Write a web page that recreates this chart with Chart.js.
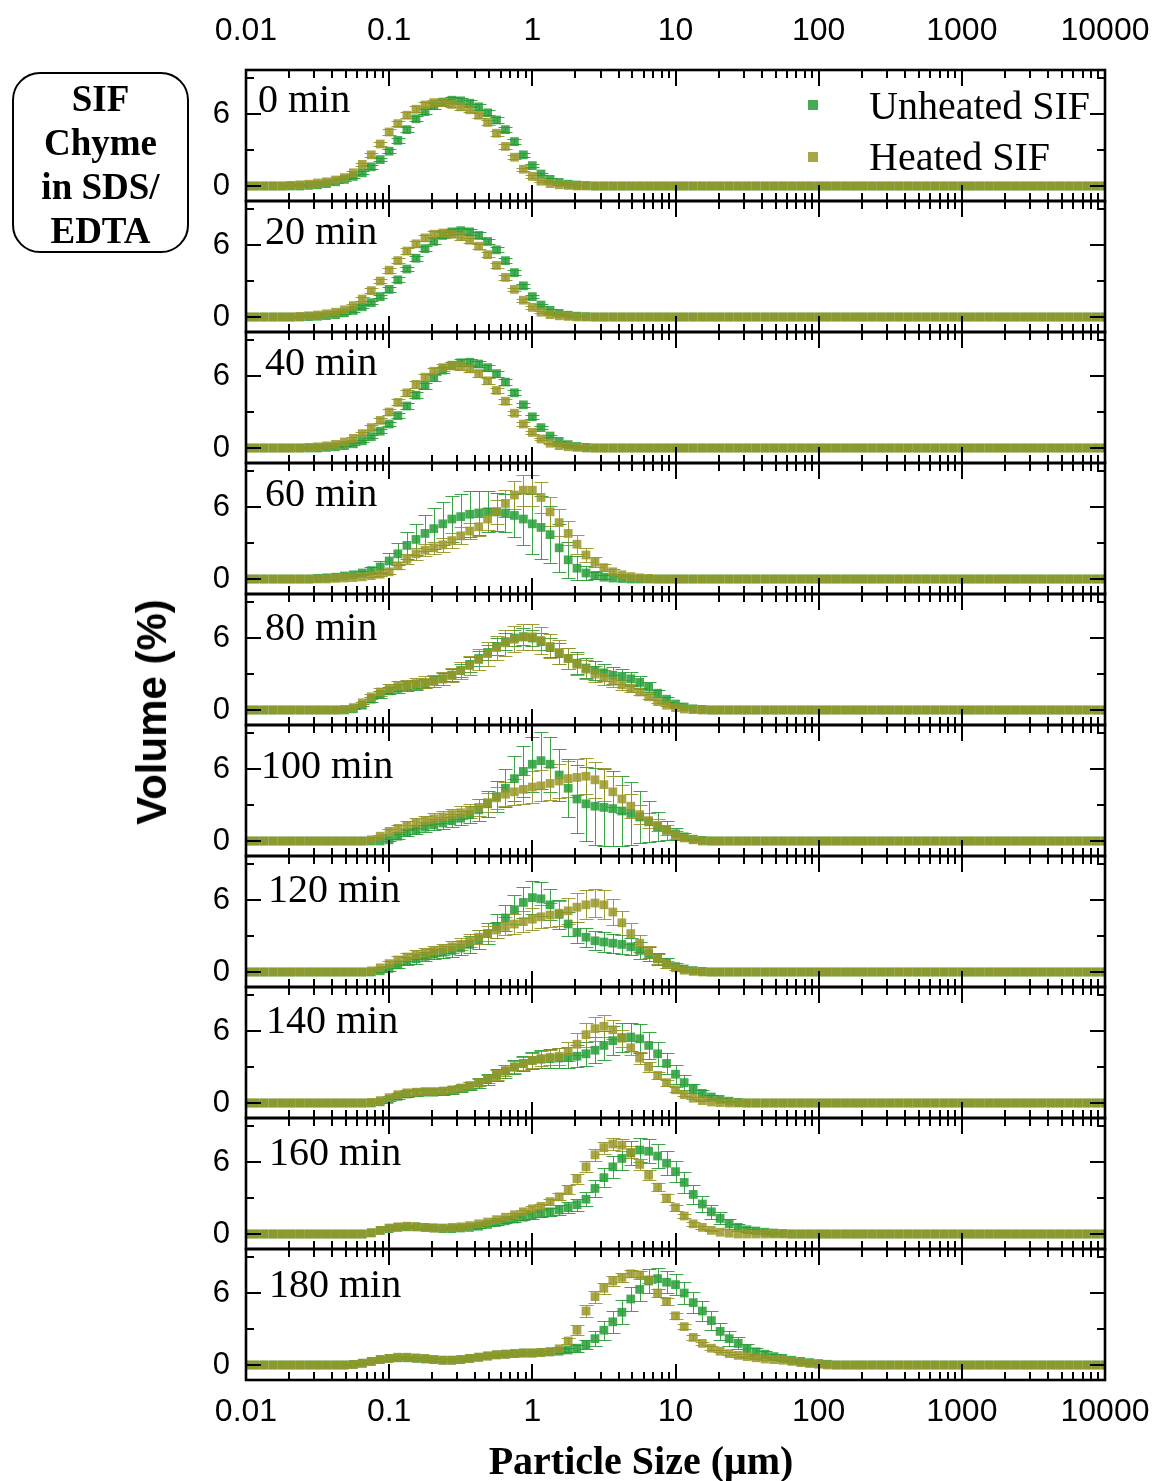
<!DOCTYPE html>
<html>
<head>
<meta charset="utf-8">
<title>SIF chyme particle size distributions</title>
<script src="https://cdn.jsdelivr.net/npm/chart.js@4.4.1/dist/chart.umd.min.js"></script>
<style>
  html, body { margin: 0; padding: 0; background: #fff; }
  #page { position: relative; width: 1155px; height: 1481px; overflow: hidden; background: #fff; }
  canvas { position: absolute; left: 0; }
  .txt { position: absolute; white-space: nowrap; color: #000; line-height: 1; z-index: 5; }
  .serif { font-family: "Liberation Serif", "Times New Roman", serif; }
  .sans { font-family: "Liberation Sans", Arial, sans-serif; }
  .tag { font-size: 40px; }
  .legend-text { font-size: 40px; }
  .swatch { position: absolute; width: 10px; height: 10px; z-index: 5; }
  #box { position: absolute; left: 12px; top: 72px; width: 177px; height: 181px; box-sizing: border-box;
         border: 2px solid #000; border-radius: 28px; display: flex; flex-direction: column;
         justify-content: center; align-items: center; z-index: 5; padding-top: 4px;
         font-family: "Liberation Serif", "Times New Roman", serif; font-weight: bold; font-size: 37px; line-height: 44px; }
  #ytitle { left: 152px; top: 712px; transform: translate(-50%, -50%) rotate(-90deg); font-weight: bold; font-size: 42px; }
  #xtitle { left: 641px; top: 1441px; transform: translateX(-50%); font-weight: bold; font-size: 40px; }
</style>
</head>
<body>
<div id="page">
  <div id="box"><div>SIF</div><div>Chyme</div><div>in SDS/</div><div>EDTA</div></div>
  <div id="ytitle" class="txt sans">Volume (%)</div>
  <div id="xtitle" class="txt serif">Particle Size (μm)</div>
</div>
<script>
// Size classes (µm), one decade per row
const sizes = [
  0.01,0.0115,0.0133,0.0154,0.0178,0.0205,0.0237,0.0274,0.0316,0.0365,0.0422,0.0487,0.0562,0.0649,0.075,0.0866,
  0.1,0.115,0.133,0.154,0.178,0.205,0.237,0.274,0.316,0.365,0.422,0.487,0.562,0.649,0.75,0.866,
  1,1.15,1.33,1.54,1.78,2.05,2.37,2.74,3.16,3.65,4.22,4.87,5.62,6.49,7.5,8.66,
  10,11.5,13.3,15.4,17.8,20.5,23.7,27.4,31.6,36.5,42.2,48.7,56.2,64.9,75,86.6,
  100,115,133,154,178,205,237,274,316,365,422,487,562,649,750,866,
  1000,1150,1330,1540,1780,2050,2370,2740,3160,3650,4220,4870,5620,6490,7500,8660,
  10000
];

const xTickValues = [0.01, 0.1, 1, 10, 100, 1000, 10000];
const xTickLabels = ['0.01', '0.1', '1', '10', '100', '1000', '10000'];
const yTickValues = [0, 6];
const yTickLabels = ['0', '6'];
const timeLabels = ['0 min', '20 min', '40 min', '60 min', '80 min', '100 min', '120 min', '140 min', '160 min', '180 min'];
const seriesNames = ['Unheated SIF', 'Heated SIF'];

// Volume (%) per size class, unheated SIF
const unheated0 = [
  0,0,0,0,0,0,0,0.05,0.1,0.2,0.35,0.55,0.8,1.1,1.6,2.2,
  2.9,3.8,4.7,5.6,6.2,6.7,7.0,7.15,7.1,6.9,6.6,6.1,5.5,4.7,3.7,2.6,
  1.7,1.0,0.55,0.3,0.15,0.08,0.04,0,0,0,0,0,0,0,0,0,
  0,0,0,0,0,0,0,0,0,0,0,0,0,0,0,0,
  0,0,0,0,0,0,0,0,0,0,0,0,0,0,0,0,
  0,0,0,0,0,0,0,0,0,0,0,0,0,0,0,0,
  0];
const unheated20 = [
  0,0,0,0,0,0,0,0.03,0.06,0.12,0.2,0.35,0.55,0.85,1.2,1.7,
  2.3,3.1,4.0,4.9,5.7,6.3,6.8,7.1,7.2,7.1,6.8,6.3,5.6,4.7,3.7,2.6,
  1.7,1.0,0.55,0.3,0.15,0.07,0.03,0,0,0,0,0,0,0,0,0,
  0,0,0,0,0,0,0,0,0,0,0,0,0,0,0,0,
  0,0,0,0,0,0,0,0,0,0,0,0,0,0,0,0,
  0,0,0,0,0,0,0,0,0,0,0,0,0,0,0,0,
  0];
const unheated40 = [
  0,0,0,0,0,0,0,0,0,0.05,0.1,0.2,0.35,0.6,0.95,1.4,
  2.0,2.7,3.5,4.4,5.2,5.9,6.5,6.9,7.1,7.15,7.0,6.7,6.2,5.5,4.6,3.6,
  2.6,1.7,1.0,0.55,0.28,0.13,0.05,0,0,0,0,0,0,0,0,0,
  0,0,0,0,0,0,0,0,0,0,0,0,0,0,0,0,
  0,0,0,0,0,0,0,0,0,0,0,0,0,0,0,0,
  0,0,0,0,0,0,0,0,0,0,0,0,0,0,0,0,
  0];
const unheated60 = [
  0,0,0,0,0,0,0,0,0.05,0.1,0.15,0.25,0.35,0.5,0.7,1.0,
  1.5,2.1,2.8,3.3,3.8,4.2,4.6,5.0,5.2,5.4,5.5,5.6,5.6,5.5,5.3,5.0,
  4.6,4.3,3.7,2.6,1.6,0.9,0.5,0.3,0.15,0.08,0.04,0,0,0,0,0,
  0,0,0,0,0,0,0,0,0,0,0,0,0,0,0,0,
  0,0,0,0,0,0,0,0,0,0,0,0,0,0,0,0,
  0,0,0,0,0,0,0,0,0,0,0,0,0,0,0,0,
  0];
const unheated80 = [
  0,0,0,0,0,0,0,0,0,0,0,0,0.1,0.4,0.9,1.3,
  1.6,1.8,2.0,2.1,2.2,2.4,2.6,2.9,3.3,3.8,4.3,4.8,5.3,5.7,6.0,6.1,
  6.0,5.7,5.2,4.7,4.3,3.9,3.5,3.3,3.1,2.9,2.8,2.6,2.3,1.9,1.4,0.9,
  0.5,0.25,0.1,0.05,0,0,0,0,0,0,0,0,0,0,0,0,
  0,0,0,0,0,0,0,0,0,0,0,0,0,0,0,0,
  0,0,0,0,0,0,0,0,0,0,0,0,0,0,0,0,
  0];
const unheated100 = [
  0,0,0,0,0,0,0,0,0,0,0,0,0,0,0,0,
  0.1,0.4,0.7,0.95,1.15,1.35,1.5,1.7,1.9,2.2,2.6,3.1,3.7,4.4,5.2,5.8,
  6.4,6.7,6.4,5.5,4.4,3.5,3.1,2.9,2.8,2.7,2.5,2.3,2.0,1.6,1.2,0.9,
  0.6,0.35,0.15,0.05,0,0,0,0,0,0,0,0,0,0,0,0,
  0,0,0,0,0,0,0,0,0,0,0,0,0,0,0,0,
  0,0,0,0,0,0,0,0,0,0,0,0,0,0,0,0,
  0];
const unheated120 = [
  0,0,0,0,0,0,0,0,0,0,0,0,0,0,0,0.1,
  0.3,0.6,0.9,1.1,1.3,1.5,1.65,1.8,2.0,2.3,2.7,3.2,3.8,4.5,5.2,5.8,
  6.2,6.1,5.6,4.8,4.0,3.3,2.9,2.6,2.5,2.4,2.3,2.1,1.8,1.5,1.1,0.75,
  0.45,0.25,0.12,0.05,0,0,0,0,0,0,0,0,0,0,0,0,
  0,0,0,0,0,0,0,0,0,0,0,0,0,0,0,0,
  0,0,0,0,0,0,0,0,0,0,0,0,0,0,0,0,
  0];
const unheated140 = [
  0,0,0,0,0,0,0,0,0,0,0,0,0,0,0,0.1,
  0.3,0.55,0.75,0.85,0.9,0.9,0.95,1.05,1.2,1.4,1.65,1.95,2.3,2.65,3.0,3.3,
  3.55,3.65,3.7,3.75,3.8,3.9,4.1,4.4,4.8,5.2,5.45,5.5,5.35,4.8,4.1,3.3,
  2.4,1.7,1.2,0.8,0.5,0.3,0.15,0.05,0,0,0,0,0,0,0,0,
  0,0,0,0,0,0,0,0,0,0,0,0,0,0,0,0,
  0,0,0,0,0,0,0,0,0,0,0,0,0,0,0,0,
  0];
const unheated160 = [
  0,0,0,0,0,0,0,0,0,0,0,0,0,0,0.1,0.3,
  0.45,0.55,0.6,0.6,0.55,0.5,0.45,0.45,0.5,0.55,0.65,0.8,0.95,1.1,1.25,1.4,
  1.55,1.7,1.85,2.0,2.2,2.45,2.9,3.8,4.7,5.6,6.3,6.75,7.0,6.9,6.5,5.9,
  5.2,4.3,3.3,2.5,1.85,1.3,0.85,0.55,0.35,0.25,0.15,0.08,0.04,0,0,0,
  0,0,0,0,0,0,0,0,0,0,0,0,0,0,0,0,
  0,0,0,0,0,0,0,0,0,0,0,0,0,0,0,0,
  0];
const unheated180 = [
  0,0,0,0,0,0,0,0,0,0,0,0,0.05,0.15,0.3,0.45,
  0.55,0.6,0.6,0.55,0.5,0.45,0.4,0.4,0.45,0.55,0.65,0.75,0.85,0.9,0.95,1.0,
  1.0,1.05,1.1,1.15,1.25,1.4,1.7,2.2,2.9,3.6,4.4,5.5,6.3,7.0,7.2,6.9,
  6.7,6.0,5.2,4.5,3.7,2.8,2.2,1.8,1.35,1.1,0.9,0.7,0.55,0.4,0.3,0.2,
  0.12,0.06,0,0,0,0,0,0,0,0,0,0,0,0,0,0,
  0,0,0,0,0,0,0,0,0,0,0,0,0,0,0,0,
  0];

// Volume (%) per size class, heated SIF
const heated0 = [
  0,0,0,0,0,0.05,0.1,0.15,0.25,0.35,0.5,0.7,1.1,1.8,2.6,3.5,
  4.5,5.2,5.9,6.4,6.75,6.95,6.95,6.8,6.6,6.35,5.9,5.3,4.4,3.3,2.4,1.4,
  0.8,0.4,0.2,0.1,0.05,0,0,0,0,0,0,0,0,0,0,0,
  0,0,0,0,0,0,0,0,0,0,0,0,0,0,0,0,
  0,0,0,0,0,0,0,0,0,0,0,0,0,0,0,0,
  0,0,0,0,0,0,0,0,0,0,0,0,0,0,0,0,
  0];
const heated20 = [
  0,0,0,0,0,0,0.05,0.1,0.17,0.27,0.4,0.6,0.95,1.5,2.2,3.0,
  3.9,4.7,5.5,6.1,6.6,6.9,7.0,6.9,6.7,6.4,5.9,5.2,4.3,3.3,2.3,1.4,
  0.8,0.4,0.2,0.1,0.05,0,0,0,0,0,0,0,0,0,0,0,
  0,0,0,0,0,0,0,0,0,0,0,0,0,0,0,0,
  0,0,0,0,0,0,0,0,0,0,0,0,0,0,0,0,
  0,0,0,0,0,0,0,0,0,0,0,0,0,0,0,0,
  0];
const heated40 = [
  0,0,0,0,0,0,0,0.05,0.1,0.18,0.3,0.5,0.8,1.2,1.7,2.3,
  3.0,3.8,4.6,5.3,5.9,6.4,6.7,6.85,6.8,6.6,6.2,5.6,4.8,3.9,2.9,2.0,
  1.3,0.75,0.4,0.2,0.1,0.05,0,0,0,0,0,0,0,0,0,0,
  0,0,0,0,0,0,0,0,0,0,0,0,0,0,0,0,
  0,0,0,0,0,0,0,0,0,0,0,0,0,0,0,0,
  0,0,0,0,0,0,0,0,0,0,0,0,0,0,0,0,
  0];
const heated60 = [
  0,0,0,0,0,0,0,0,0,0,0.05,0.08,0.12,0.18,0.28,0.4,
  0.6,1.1,1.65,2.1,2.4,2.6,2.85,3.2,3.6,4.0,4.35,5.0,5.6,6.3,7.0,7.4,
  7.4,6.8,5.6,4.7,3.8,2.9,2.0,1.4,0.95,0.6,0.35,0.2,0.1,0.05,0,0,
  0,0,0,0,0,0,0,0,0,0,0,0,0,0,0,0,
  0,0,0,0,0,0,0,0,0,0,0,0,0,0,0,0,
  0,0,0,0,0,0,0,0,0,0,0,0,0,0,0,0,
  0];
const heated80 = [
  0,0,0,0,0,0,0,0,0,0,0,0.05,0.2,0.6,1.1,1.5,
  1.8,2.0,2.1,2.2,2.3,2.4,2.6,2.9,3.3,3.7,4.2,4.7,5.2,5.6,5.9,6.1,
  6.1,5.8,5.3,4.8,4.3,3.8,3.4,3.0,2.7,2.4,2.1,1.8,1.5,1.1,0.7,0.4,
  0.2,0.08,0.03,0,0,0,0,0,0,0,0,0,0,0,0,0,
  0,0,0,0,0,0,0,0,0,0,0,0,0,0,0,0,
  0,0,0,0,0,0,0,0,0,0,0,0,0,0,0,0,
  0];
const heated100 = [
  0,0,0,0,0,0,0,0,0,0,0,0,0,0,0.1,0.4,
  0.8,1.05,1.3,1.5,1.7,1.85,2.0,2.2,2.35,2.5,2.8,3.2,3.6,3.9,4.1,4.3,
  4.5,4.6,4.8,5.0,5.2,5.3,5.4,5.1,4.7,4.1,3.5,2.9,2.2,1.7,1.3,0.9,
  0.5,0.25,0.1,0,0,0,0,0,0,0,0,0,0,0,0,0,
  0,0,0,0,0,0,0,0,0,0,0,0,0,0,0,0,
  0,0,0,0,0,0,0,0,0,0,0,0,0,0,0,0,
  0];
const heated120 = [
  0,0,0,0,0,0,0,0,0,0,0,0,0,0,0.1,0.35,
  0.7,1.0,1.25,1.45,1.6,1.75,1.9,2.1,2.3,2.6,2.9,3.2,3.5,3.8,4.0,4.2,
  4.4,4.6,4.75,4.9,5.1,5.4,5.6,5.75,5.6,5.0,4.1,3.2,2.4,1.7,1.1,0.65,
  0.35,0.15,0.05,0,0,0,0,0,0,0,0,0,0,0,0,0,
  0,0,0,0,0,0,0,0,0,0,0,0,0,0,0,0,
  0,0,0,0,0,0,0,0,0,0,0,0,0,0,0,0,
  0];
const heated140 = [
  0,0,0,0,0,0,0,0,0,0,0,0,0,0,0.05,0.2,
  0.45,0.7,0.85,0.9,0.95,0.95,1.0,1.1,1.25,1.45,1.7,2.0,2.35,2.7,3.0,3.3,
  3.55,3.7,3.8,3.9,4.3,4.9,5.7,6.2,6.4,6.1,5.4,4.6,3.75,3.0,2.3,1.7,
  1.1,0.7,0.4,0.2,0.08,0.03,0,0,0,0,0,0,0,0,0,0,
  0,0,0,0,0,0,0,0,0,0,0,0,0,0,0,0,
  0,0,0,0,0,0,0,0,0,0,0,0,0,0,0,0,
  0];
const heated160 = [
  0,0,0,0,0,0,0,0,0,0,0,0,0,0,0.1,0.3,
  0.5,0.6,0.65,0.6,0.55,0.5,0.5,0.55,0.6,0.7,0.85,1.0,1.2,1.4,1.6,1.85,
  2.1,2.3,2.7,3.1,3.7,4.6,5.6,6.6,7.2,7.5,7.4,6.8,5.8,4.9,3.9,3.0,
  2.2,1.5,0.85,0.55,0.3,0.15,0.07,0,0,0,0,0,0,0,0,0,
  0,0,0,0,0,0,0,0,0,0,0,0,0,0,0,0,
  0,0,0,0,0,0,0,0,0,0,0,0,0,0,0,0,
  0];
const heated180 = [
  0,0,0,0,0,0,0,0,0,0,0,0,0.05,0.15,0.3,0.45,
  0.55,0.65,0.65,0.6,0.55,0.45,0.4,0.4,0.45,0.55,0.65,0.75,0.85,0.9,0.95,1.0,
  1.0,1.05,1.1,1.35,2.0,2.9,4.5,5.7,6.4,7.0,7.3,7.6,7.5,7.1,6.0,5.3,
  4.1,3.2,2.3,1.8,1.4,1.15,0.95,0.8,0.7,0.6,0.5,0.45,0.4,0.3,0.2,0.12,
  0.06,0,0,0,0,0,0,0,0,0,0,0,0,0,0,0,
  0,0,0,0,0,0,0,0,0,0,0,0,0,0,0,0,
  0];

// Standard deviations, unheated SIF
const unheatedErr0 = [
  0,0,0,0,0,0,0,0.03,0.05,0.05,0.08,0.1,0.1,0.12,0.15,0.15,
  0.18,0.2,0.2,0.22,0.22,0.25,0.25,0.25,0.25,0.25,0.25,0.22,0.22,0.2,0.2,0.18,
  0.15,0.12,0.1,0.06,0.04,0.02,0,0,0,0,0,0,0,0,0,0,
  0,0,0,0,0,0,0,0,0,0,0,0,0,0,0,0,
  0,0,0,0,0,0,0,0,0,0,0,0,0,0,0,0,
  0,0,0,0,0,0,0,0,0,0,0,0,0,0,0,0,
  0];
const unheatedErr20 = [
  0,0,0,0,0,0,0,0.03,0.05,0.05,0.08,0.1,0.1,0.12,0.15,0.15,
  0.18,0.2,0.2,0.22,0.22,0.25,0.25,0.25,0.25,0.25,0.25,0.22,0.22,0.2,0.2,0.18,
  0.15,0.12,0.1,0.06,0.04,0.02,0,0,0,0,0,0,0,0,0,0,
  0,0,0,0,0,0,0,0,0,0,0,0,0,0,0,0,
  0,0,0,0,0,0,0,0,0,0,0,0,0,0,0,0,
  0,0,0,0,0,0,0,0,0,0,0,0,0,0,0,0,
  0];
const unheatedErr40 = [
  0,0,0,0,0,0,0,0,0,0.03,0.05,0.06,0.08,0.1,0.12,0.15,
  0.18,0.2,0.22,0.25,0.25,0.28,0.28,0.28,0.28,0.28,0.28,0.25,0.25,0.22,0.2,0.18,
  0.15,0.12,0.1,0.06,0.04,0.02,0.01,0,0,0,0,0,0,0,0,0,
  0,0,0,0,0,0,0,0,0,0,0,0,0,0,0,0,
  0,0,0,0,0,0,0,0,0,0,0,0,0,0,0,0,
  0,0,0,0,0,0,0,0,0,0,0,0,0,0,0,0,
  0];
const unheatedErr60 = [
  0,0,0,0,0,0,0,0,0,0,0,0,0.1,0.2,0.3,0.5,
  0.7,0.9,1.1,1.3,1.5,1.7,1.8,1.9,1.9,1.9,1.8,1.7,1.6,1.6,1.8,2.2,
  2.5,2.6,2.4,2.0,1.5,1.0,0.6,0.3,0.15,0,0,0,0,0,0,0,
  0,0,0,0,0,0,0,0,0,0,0,0,0,0,0,0,
  0,0,0,0,0,0,0,0,0,0,0,0,0,0,0,0,
  0,0,0,0,0,0,0,0,0,0,0,0,0,0,0,0,
  0];
const unheatedErr80 = [
  0,0,0,0,0,0,0,0,0,0,0,0,0.05,0.1,0.2,0.3,
  0.3,0.35,0.4,0.4,0.4,0.45,0.5,0.5,0.55,0.6,0.6,0.65,0.7,0.7,0.7,0.7,
  0.7,0.7,0.8,0.9,0.9,0.9,0.8,0.8,0.7,0.7,0.6,0.6,0.5,0.4,0.3,0.2,
  0.1,0.05,0,0,0,0,0,0,0,0,0,0,0,0,0,0,
  0,0,0,0,0,0,0,0,0,0,0,0,0,0,0,0,
  0,0,0,0,0,0,0,0,0,0,0,0,0,0,0,0,
  0];
const unheatedErr100 = [
  0,0,0,0,0,0,0,0,0,0,0,0,0,0,0,0,
  0.1,0.2,0.3,0.35,0.4,0.45,0.5,0.55,0.6,0.7,0.9,1.1,1.3,1.6,1.9,2.1,
  2.3,2.4,2.3,2.2,2.4,2.8,3.1,3.2,3.2,3.1,2.9,2.6,2.2,1.7,1.2,0.8,
  0.5,0.3,0.1,0,0,0,0,0,0,0,0,0,0,0,0,0,
  0,0,0,0,0,0,0,0,0,0,0,0,0,0,0,0,
  0,0,0,0,0,0,0,0,0,0,0,0,0,0,0,0,
  0];
const unheatedErr120 = [
  0,0,0,0,0,0,0,0,0,0,0,0,0,0,0,0.1,
  0.2,0.3,0.35,0.4,0.4,0.45,0.5,0.55,0.6,0.7,0.8,0.9,1.0,1.1,1.2,1.3,
  1.4,1.4,1.3,1.2,1.0,0.9,0.8,0.8,0.8,0.8,0.8,0.7,0.7,0.6,0.5,0.4,
  0.3,0.2,0.1,0,0,0,0,0,0,0,0,0,0,0,0,0,
  0,0,0,0,0,0,0,0,0,0,0,0,0,0,0,0,
  0,0,0,0,0,0,0,0,0,0,0,0,0,0,0,0,
  0];
const unheatedErr140 = [
  0,0,0,0,0,0,0,0,0,0,0,0,0,0,0,0.1,
  0.15,0.2,0.25,0.25,0.25,0.25,0.25,0.3,0.3,0.35,0.4,0.45,0.5,0.55,0.6,0.65,
  0.7,0.75,0.8,0.8,0.85,0.9,1.0,1.1,1.2,1.2,1.2,1.2,1.2,1.1,1.0,0.9,
  0.8,0.6,0.4,0.3,0.2,0.1,0.05,0,0,0,0,0,0,0,0,0,
  0,0,0,0,0,0,0,0,0,0,0,0,0,0,0,0,
  0,0,0,0,0,0,0,0,0,0,0,0,0,0,0,0,
  0];
const unheatedErr160 = [
  0,0,0,0,0,0,0,0,0,0,0,0,0,0,0,0,
  0.1,0.1,0.1,0.1,0.1,0.1,0.1,0.1,0.1,0.1,0.15,0.15,0.2,0.2,0.25,0.25,
  0.3,0.3,0.35,0.4,0.45,0.5,0.6,0.7,0.8,0.9,1.0,1.0,1.0,1.0,1.0,1.0,
  0.9,0.9,0.8,0.7,0.6,0.5,0.4,0.3,0.2,0.15,0.1,0.05,0,0,0,0,
  0,0,0,0,0,0,0,0,0,0,0,0,0,0,0,0,
  0,0,0,0,0,0,0,0,0,0,0,0,0,0,0,0,
  0];
const unheatedErr180 = [
  0,0,0,0,0,0,0,0,0,0,0,0,0.03,0.05,0.08,0.1,
  0.1,0.1,0.1,0.1,0.1,0.1,0.1,0.1,0.1,0.1,0.1,0.1,0.1,0.1,0.1,0.1,
  0.1,0.1,0.1,0.15,0.2,0.3,0.4,0.6,0.8,0.9,1.0,1.0,1.0,1.0,0.9,0.9,
  0.9,0.9,0.9,0.8,0.8,0.7,0.6,0.5,0.4,0.3,0.25,0.2,0.15,0.1,0.1,0.05,
  0.03,0,0,0,0,0,0,0,0,0,0,0,0,0,0,0,
  0,0,0,0,0,0,0,0,0,0,0,0,0,0,0,0,
  0];

// Standard deviations, heated SIF
const heatedErr0 = [
  0,0,0,0,0,0.03,0.05,0.05,0.06,0.08,0.1,0.1,0.12,0.15,0.18,0.2,
  0.22,0.22,0.25,0.25,0.25,0.25,0.25,0.25,0.25,0.22,0.22,0.2,0.2,0.18,0.15,0.12,
  0.1,0.06,0.04,0.02,0,0,0,0,0,0,0,0,0,0,0,0,
  0,0,0,0,0,0,0,0,0,0,0,0,0,0,0,0,
  0,0,0,0,0,0,0,0,0,0,0,0,0,0,0,0,
  0,0,0,0,0,0,0,0,0,0,0,0,0,0,0,0,
  0];
const heatedErr20 = [
  0,0,0,0,0,0,0.03,0.05,0.06,0.08,0.1,0.1,0.12,0.15,0.18,0.2,
  0.22,0.22,0.25,0.25,0.25,0.25,0.25,0.25,0.25,0.22,0.22,0.2,0.2,0.18,0.15,0.12,
  0.1,0.06,0.04,0.02,0,0,0,0,0,0,0,0,0,0,0,0,
  0,0,0,0,0,0,0,0,0,0,0,0,0,0,0,0,
  0,0,0,0,0,0,0,0,0,0,0,0,0,0,0,0,
  0,0,0,0,0,0,0,0,0,0,0,0,0,0,0,0,
  0];
const heatedErr40 = [
  0,0,0,0,0,0,0,0.03,0.05,0.06,0.08,0.1,0.12,0.15,0.18,0.2,
  0.22,0.25,0.25,0.28,0.28,0.3,0.3,0.3,0.3,0.28,0.28,0.25,0.22,0.2,0.18,0.15,
  0.12,0.08,0.05,0.03,0.02,0.01,0,0,0,0,0,0,0,0,0,0,
  0,0,0,0,0,0,0,0,0,0,0,0,0,0,0,0,
  0,0,0,0,0,0,0,0,0,0,0,0,0,0,0,0,
  0,0,0,0,0,0,0,0,0,0,0,0,0,0,0,0,
  0];
const heatedErr60 = [
  0,0,0,0,0,0,0,0,0,0,0,0,0,0,0.1,0.15,
  0.2,0.3,0.4,0.5,0.5,0.5,0.6,0.6,0.7,0.7,0.8,0.9,1.0,1.1,1.2,1.3,
  1.3,1.3,1.2,1.1,1.0,0.8,0.6,0.4,0.3,0.2,0.1,0,0,0,0,0,
  0,0,0,0,0,0,0,0,0,0,0,0,0,0,0,0,
  0,0,0,0,0,0,0,0,0,0,0,0,0,0,0,0,
  0,0,0,0,0,0,0,0,0,0,0,0,0,0,0,0,
  0];
const heatedErr80 = [
  0,0,0,0,0,0,0,0,0,0,0,0,0,0.1,0.2,0.3,
  0.35,0.4,0.4,0.45,0.5,0.5,0.55,0.6,0.7,0.8,0.9,1.0,1.0,1.1,1.1,1.1,
  1.1,1.1,1.0,1.0,0.9,0.9,0.8,0.7,0.6,0.5,0.4,0.3,0.25,0.2,0.15,0.1,
  0.05,0,0,0,0,0,0,0,0,0,0,0,0,0,0,0,
  0,0,0,0,0,0,0,0,0,0,0,0,0,0,0,0,
  0,0,0,0,0,0,0,0,0,0,0,0,0,0,0,0,
  0];
const heatedErr100 = [
  0,0,0,0,0,0,0,0,0,0,0,0,0,0,0,0.1,
  0.2,0.3,0.35,0.4,0.4,0.45,0.5,0.5,0.55,0.6,0.7,0.8,0.9,1.0,1.1,1.2,
  1.3,1.3,1.4,1.4,1.5,1.5,1.5,1.5,1.4,1.3,1.2,1.0,0.8,0.6,0.5,0.4,
  0.3,0.2,0.1,0,0,0,0,0,0,0,0,0,0,0,0,0,
  0,0,0,0,0,0,0,0,0,0,0,0,0,0,0,0,
  0,0,0,0,0,0,0,0,0,0,0,0,0,0,0,0,
  0];
const heatedErr120 = [
  0,0,0,0,0,0,0,0,0,0,0,0,0,0,0,0.1,
  0.2,0.3,0.3,0.35,0.4,0.4,0.45,0.5,0.5,0.55,0.6,0.65,0.7,0.75,0.8,0.85,
  0.9,0.95,1.0,1.05,1.1,1.2,1.2,1.2,1.2,1.1,1.0,0.9,0.7,0.5,0.4,0.3,
  0.2,0.1,0.05,0,0,0,0,0,0,0,0,0,0,0,0,0,
  0,0,0,0,0,0,0,0,0,0,0,0,0,0,0,0,
  0,0,0,0,0,0,0,0,0,0,0,0,0,0,0,0,
  0];
const heatedErr140 = [
  0,0,0,0,0,0,0,0,0,0,0,0,0,0,0,0,
  0.1,0.15,0.2,0.2,0.2,0.2,0.2,0.25,0.25,0.3,0.3,0.35,0.4,0.45,0.5,0.55,
  0.6,0.6,0.65,0.7,0.8,0.9,1.0,1.0,0.9,0.8,0.7,0.6,0.5,0.4,0.3,0.25,
  0.2,0.15,0.1,0.05,0,0,0,0,0,0,0,0,0,0,0,0,
  0,0,0,0,0,0,0,0,0,0,0,0,0,0,0,0,
  0,0,0,0,0,0,0,0,0,0,0,0,0,0,0,0,
  0];
const heatedErr160 = [
  0,0,0,0,0,0,0,0,0,0,0,0,0,0,0,0,
  0.08,0.08,0.08,0.08,0.08,0.08,0.08,0.08,0.08,0.08,0.08,0.08,0.1,0.12,0.15,0.18,
  0.2,0.2,0.25,0.3,0.35,0.4,0.45,0.5,0.5,0.5,0.5,0.5,0.45,0.4,0.35,0.3,
  0.25,0.2,0.15,0.1,0.05,0,0,0,0,0,0,0,0,0,0,0,
  0,0,0,0,0,0,0,0,0,0,0,0,0,0,0,0,
  0,0,0,0,0,0,0,0,0,0,0,0,0,0,0,0,
  0];
const heatedErr180 = [
  0,0,0,0,0,0,0,0,0,0,0,0,0.03,0.05,0.08,0.1,
  0.1,0.1,0.1,0.1,0.1,0.1,0.1,0.1,0.1,0.1,0.1,0.1,0.1,0.1,0.1,0.1,
  0.1,0.1,0.1,0.15,0.25,0.4,0.5,0.5,0.45,0.4,0.35,0.3,0.3,0.3,0.3,0.3,
  0.25,0.2,0.2,0.15,0.15,0.1,0.1,0.1,0.08,0.06,0.05,0.04,0.03,0.02,0.02,0.01,
  0,0,0,0,0,0,0,0,0,0,0,0,0,0,0,0,
  0,0,0,0,0,0,0,0,0,0,0,0,0,0,0,0,
  0];

const unheated = [unheated0, unheated20, unheated40, unheated60, unheated80, unheated100, unheated120, unheated140, unheated160, unheated180];
const heated = [heated0, heated20, heated40, heated60, heated80, heated100, heated120, heated140, heated160, heated180];
const unheatedErr = [unheatedErr0, unheatedErr20, unheatedErr40, unheatedErr60, unheatedErr80, unheatedErr100, unheatedErr120, unheatedErr140, unheatedErr160, unheatedErr180];
const heatedErr = [heatedErr0, heatedErr20, heatedErr40, heatedErr60, heatedErr80, heatedErr100, heatedErr120, heatedErr140, heatedErr160, heatedErr180];

[unheated, heated, unheatedErr, heatedErr].forEach((group) => group.forEach((arr, i) => {
  if (arr.length !== sizes.length) throw new Error('series ' + i + ' has ' + arr.length + ' values');
}));

// ---- layout and style ----
const W = 1155;
const CANVAS_W = 1260;            // wider than the page so the right-hand tick label never squeezes the plot
const PLOT_LEFT = 246, PLOT_RIGHT = 1105, PLOT_TOP = 70, PANEL_H = 131;
const MARGIN = 40;                // room above/below each panel for the axis label overhang
const GREEN = 'rgba(38,158,54,0.85)';
const OLIVE = 'rgba(154,150,40,0.85)';
const GREEN_BAR = 'rgba(38,155,52,0.9)';
const OLIVE_BAR = 'rgba(150,146,38,0.9)';
const SANS = "'Liberation Sans', Arial, sans-serif";

// vertical error bars with caps, drawn under the markers
const errorBars = {
  id: 'errorBars',
  beforeDatasetsDraw(chart) {
    const { ctx, chartArea: a, scales: { y } } = chart;
    ctx.save();
    ctx.beginPath();
    ctx.rect(a.left, a.top, a.right - a.left, a.bottom - a.top);
    ctx.clip();
    ctx.lineWidth = 1;
    chart.data.datasets.forEach((ds, di) => {
      const meta = chart.getDatasetMeta(di);
      ctx.strokeStyle = ds.barColor;
      ctx.beginPath();
      meta.data.forEach((pt, j) => {
        const e = ds.errors[j];
        if (!e) return;
        const v = ds.data[j].y;
        const x = Math.round(pt.x) + 0.5;
        const yt = Math.round(y.getPixelForValue(v + e)) + 0.5;
        const yb = Math.round(y.getPixelForValue(v - e)) + 0.5;
        ctx.moveTo(x, yt); ctx.lineTo(x, yb);
        ctx.moveTo(x - 7, yt); ctx.lineTo(x + 7, yt);
        ctx.moveTo(x - 7, yb); ctx.lineTo(x + 7, yb);
      });
      ctx.stroke();
    });
    ctx.restore();
  }
};

// box frame with inward ticks on all four sides
const frame = {
  id: 'frame',
  afterDraw(chart) {
    const { ctx, chartArea: a, scales: { x, y } } = chart;
    ctx.save();
    ctx.strokeStyle = '#000';
    ctx.lineWidth = 2;
    ctx.beginPath();
    for (let d = -2; d <= 4; d++) {
      for (let m = 1; m <= 9; m++) {
        const v = m * Math.pow(10, d);
        if (v > 10000.001) break;
        const px = Math.round(x.getPixelForValue(v));
        const len = m === 1 ? 16 : 8;
        ctx.moveTo(px, a.top); ctx.lineTo(px, a.top + len);
        ctx.moveTo(px, a.bottom); ctx.lineTo(px, a.bottom - len);
      }
    }
    [0, 3, 6, 9].forEach((v) => {
      const py = Math.round(y.getPixelForValue(v));
      const len = v % 6 === 0 ? 15 : 8;
      ctx.moveTo(a.left, py); ctx.lineTo(a.left + len, py);
      ctx.moveTo(a.right, py); ctx.lineTo(a.right - len, py);
    });
    ctx.stroke();
    ctx.lineWidth = 2.6;
    ctx.strokeRect(a.left, a.top, a.right - a.left, a.bottom - a.top);
    ctx.restore();
  }
};

const page = document.getElementById('page');

function addText(text, cls, left, baseline, size) {
  const d = document.createElement('div');
  d.className = 'txt ' + cls;
  d.textContent = text;
  d.style.left = left + 'px';
  d.style.top = (baseline - 0.8375 * size) + 'px';
  page.appendChild(d);
  return d;
}

const tagLeft = [258, 265, 265, 265, 265, 261, 268, 266, 269, 269];
const tagBase = [112, 244, 375, 506, 640, 778, 902, 1033, 1165, 1297];

timeLabels.forEach((label, i) => {
  const first = i === 0;
  const last = i === timeLabels.length - 1;
  const panelTop = PLOT_TOP + i * PANEL_H;
  const above = first ? PLOT_TOP : MARGIN;
  const below = last ? 90 : MARGIN;
  const h = above + PANEL_H + below;
  const canvas = document.createElement('canvas');
  canvas.width = CANVAS_W;
  canvas.height = h;
  canvas.style.top = (panelTop - above) + 'px';
  canvas.style.width = CANVAS_W + 'px';
  canvas.style.height = h + 'px';
  page.appendChild(canvas);

  const pointsOf = (vals) => sizes.map((s, k) => ({ x: s, y: vals[k] }));
  const showX = first || last;

  new Chart(canvas, {
    type: 'scatter',
    data: {
      datasets: [
        { label: seriesNames[0], data: pointsOf(unheated[i]), errors: unheatedErr[i], barColor: GREEN_BAR,
          backgroundColor: GREEN, borderColor: GREEN, pointStyle: 'rect', pointRadius: 6.2, pointBorderWidth: 0, order: 1 },
        { label: seriesNames[1], data: pointsOf(heated[i]), errors: heatedErr[i], barColor: OLIVE_BAR,
          backgroundColor: OLIVE, borderColor: OLIVE, pointStyle: 'rect', pointRadius: 6.2, pointBorderWidth: 0, order: 0 }
      ]
    },
    options: {
      responsive: false,
      animation: false,
      devicePixelRatio: 1,
      events: [],
      layout: { padding: { left: 0, right: CANVAS_W - PLOT_RIGHT, top: first ? 0 : above, bottom: last ? 0 : below } },
      plugins: { legend: { display: false }, tooltip: { enabled: false } },
      scales: {
        x: {
          type: 'logarithmic',
          min: 0.01, max: 10000,
          position: first ? 'top' : 'bottom',
          display: showX,
          grid: { display: false, drawTicks: false },
          border: { display: false },
          afterBuildTicks: (s) => { s.ticks = xTickValues.map((v) => ({ value: v, major: true })); },
          afterFit: (s) => { if (showX) s.height = first ? above : below; },
          ticks: {
            autoSkip: false, maxRotation: 0, minRotation: 0,
            padding: first ? 20 : 13,
            color: '#000',
            font: { family: SANS, size: 32 },
            callback: (v, idx) => xTickLabels[idx]
          }
        },
        y: {
          min: -1.25, max: 9.67,
          grid: { display: false, drawTicks: false },
          border: { display: false },
          afterBuildTicks: (s) => { s.ticks = yTickValues.map((v) => ({ value: v })); },
          afterFit: (s) => { s.width = PLOT_LEFT; },
          ticks: {
            padding: 16,
            color: '#000',
            font: { family: SANS, size: 31 },
            callback: (v, idx) => yTickLabels[idx]
          }
        }
      }
    },
    plugins: [errorBars, frame]
  });

  addText(label, 'serif tag', tagLeft[i], tagBase[i], 40);
});

// legend inside the first panel
[[seriesNames[0], GREEN, 105, 119], [seriesNames[1], OLIVE, 157, 170]].forEach(([name, color, cy, base]) => {
  const sw = document.createElement('div');
  sw.className = 'swatch';
  sw.style.left = '808px';
  sw.style.top = (cy - 5) + 'px';
  sw.style.background = color;
  page.appendChild(sw);
  addText(name, 'serif legend-text', 869, base, 40);
});
</script>
</body>
</html>
